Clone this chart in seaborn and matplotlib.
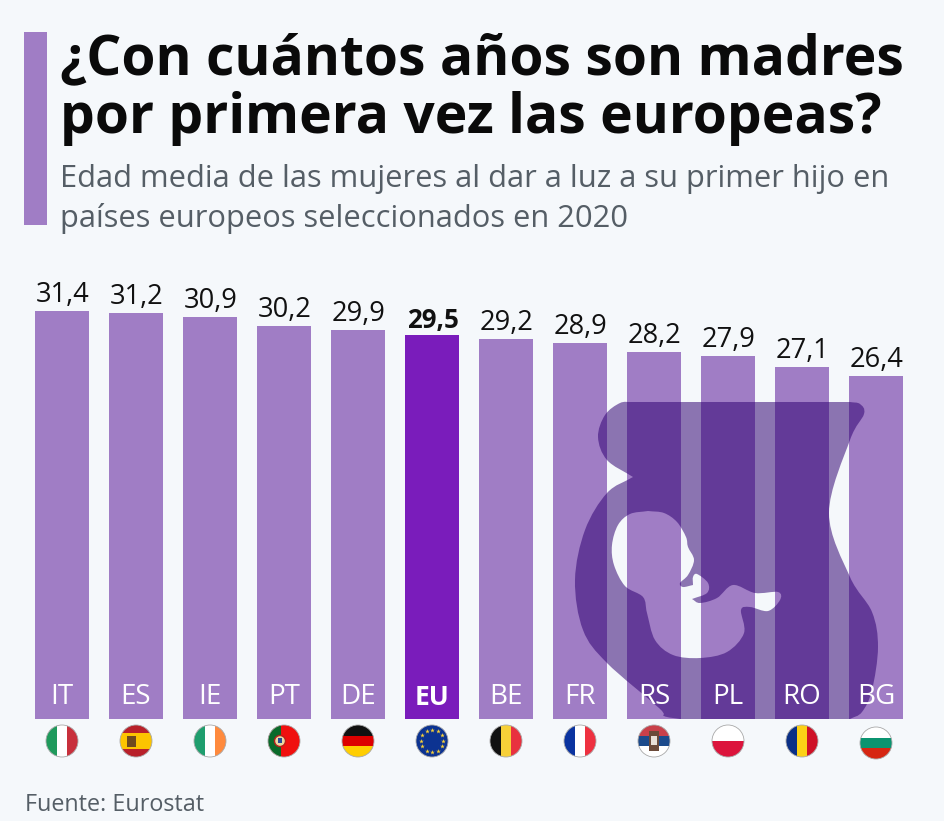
import numpy as np
import pandas as pd
import matplotlib
matplotlib.use("Agg")
import matplotlib.pyplot as plt
import seaborn as sns
from matplotlib.patches import Circle, PathPatch, Rectangle
from matplotlib.path import Path

# Data
countries = ["IT", "ES", "IE", "PT", "DE", "EU", "BE", "FR", "RS", "PL", "RO", "BG"]
ages = [31.4, 31.2, 30.9, 30.2, 29.9, 29.5, 29.2, 28.9, 28.2, 27.9, 27.1, 26.4]
highlight = "EU"

title_lines = ["¿Con cuántos años son madres", "por primera vez las europeas?"]
subtitle_lines = ["Edad media de las mujeres al dar a luz a su primer hijo en",
                  "países europeos seleccionados en 2020"]
source = "Fuente: Eurostat"

BG = "#f5f8fb"
LIGHT = "#a07dc5"
DARK = "#7a1cbb"
GREY = "#555e66"

sns.set_theme(style="white")
plt.rcParams["font.family"] = ["Open Sans", "DejaVu Sans"]

W, H = 945, 821
fig = plt.figure(figsize=(W / 100, H / 100), dpi=100, facecolor=BG)

# overlay in pixel coords for title, flags, decoration
ov = fig.add_axes([0, 0, 1, 1], zorder=0)
ov.set_xlim(0, W)
ov.set_ylim(H, 0)
ov.axis("off")

# ============================================================================
# Bars
# ============================================================================
BASE_Y = 719
PX_PER_YEAR = 13.0
ax_top = 250
ax = fig.add_axes([25 / W, (H - BASE_Y) / H, 888 / W, (BASE_Y - ax_top) / H], zorder=1)
ax.patch.set_alpha(0)

df = pd.DataFrame({"country": countries, "age": ages})
palette = {c: (DARK if c == highlight else LIGHT) for c in countries}
sns.barplot(data=df, x="country", y="age", hue="country", palette=palette,
            dodge=False, legend=False, width=0.72, saturation=1, linewidth=0, ax=ax)
ax.set_xlim(-0.5, len(countries) - 0.5)
ax.set_ylim(0, (BASE_Y - ax_top) / PX_PER_YEAR)
ax.set_xlabel("")
ax.set_ylabel("")
ax.set_xticks([])
ax.set_yticks([])
sns.despine(ax=ax, left=True, bottom=True)

# value labels + codes inside bars
for i, (c, v) in enumerate(zip(countries, ages)):
    weight = "bold" if c == highlight else "normal"
    ax.annotate(f"{v:.1f}".replace(".", ","), (i, v), xytext=(0.5, 1.4), textcoords="offset points",
                ha="center", va="bottom", fontsize=19.6 if c != highlight else 18.6, color="#111111",
                weight=weight, zorder=5)
    ax.annotate(c, (i, 0), xytext=(0, 15.5), textcoords="offset points",
                ha="center", va="center", fontsize=20 if c != highlight else 19, color="white",
                weight=weight, zorder=5)


# ============================================================================
# Silhouette
# ============================================================================
def spline(pts, first=False):
    # catmull-rom through pts as bezier pieces, ends are free
    pts = np.array(pts, dtype=float)
    ext = np.vstack([2 * pts[0] - pts[1], pts, 2 * pts[-1] - pts[-2]])
    verts, codes = [], []
    if first:
        verts.append(pts[0])
        codes.append(Path.MOVETO)
    for i in range(1, len(ext) - 2):
        p0, p1, p2, p3 = ext[i - 1], ext[i], ext[i + 1], ext[i + 2]
        verts += [p1 + (p2 - p0) / 6, p2 - (p3 - p1) / 6, p2]
        codes += [Path.CURVE4] * 3
    return verts, codes


def outline(pieces):
    verts, codes = [], []
    for j, piece in enumerate(pieces):
        v, c = spline(piece, first=(j == 0))
        verts += v
        codes += c
    verts.append(verts[0])
    codes.append(Path.CLOSEPOLY)
    return verts, codes


body = [
    [(632, 402), (850, 402)],
    [(850, 402), (860, 404), (864, 414), (850, 440), (829, 513), (850, 577), (872, 612), (878, 647),
     (872, 690), (862, 712), (850, 719)],
    [(850, 719), (680, 719)],
    [(680, 719), (664, 716), (659, 708), (607, 663), (583, 630), (575, 580), (585, 530), (607, 493), (633, 477)],
    [(633, 477), (607, 460), (598, 437), (605, 415), (620, 403), (632, 402)],
]
fetus = [
    [(648, 511), (664, 513), (677, 522), (686, 537), (688, 547), (694, 560), (688, 575), (680, 583), (683, 587),
     (693, 585)],
    [(693, 585), (693, 577), (697, 574), (708, 583), (707, 593), (692, 599)],
    [(692, 599), (700, 603), (717, 598), (733, 585), (755, 593), (778, 592), (780, 600), (768, 611), (750, 607),
     (741, 610), (744, 633), (727, 652), (700, 658), (673, 655), (655, 640), (647, 613), (643, 597), (625, 586),
     (614, 565), (612, 545), (618, 525), (630, 514), (648, 511)],
]
v1, c1 = outline(body)
# the hole has to run the other way round
v2, c2 = outline([piece[::-1] for piece in fetus[::-1]])
shape = PathPatch(Path(v1 + v2, c1 + c2), facecolor="#2e0070", alpha=0.53, lw=0,
                  transform=ov.transData, clip_on=False, zorder=3)
ax.add_patch(shape)


# ============================================================================
# Flags
# ============================================================================
def vstripes(colors):
    return [(i / len(colors), 1 / len(colors), c) for i, c in enumerate(colors)]


flag_v = {"IT": ["#1f9a5c", "#ffffff", "#c8303c"], "IE": ["#1f9e6e", "#ffffff", "#ff8a3d"],
          "BE": ["#111111", "#f7d038", "#e8313f"], "FR": ["#0a33a0", "#ffffff", "#ee3140"],
          "RO": ["#0a2f86", "#fcd116", "#ce1126"]}
flag_h = {"ES": [("#b8202a", .25), ("#fcc400", .5), ("#b8202a", .25)],
          "DE": [("#111111", 1 / 3), ("#dd0000", 1 / 3), ("#ffce00", 1 / 3)],
          "EU": [("#0c3391", 1)],
          "RS": [("#c9404a", 1 / 3), ("#1c4b8c", 1 / 3), ("#ffffff", 1 / 3)],
          "PL": [("#ffffff", .5), ("#dc143c", .5)],
          "BG": [("#ffffff", 1 / 3), ("#0b9470", 1 / 3), ("#d62612", 1 / 3)]}
R = 16
for i, c in enumerate(countries):
    cx, cy = 62 + 74 * i, 743 if c == "BG" else 741
    clip = Circle((cx, cy), R, transform=ov.transData)
    parts = []
    if c in flag_v:
        for frac, w, col in vstripes(flag_v[c]):
            parts.append(Rectangle((cx - R + 2 * R * frac, cy - R), 2 * R * w, 2 * R, fc=col, lw=0))
    elif c == "PT":
        parts.append(Rectangle((cx - R, cy - R), 2 * R, 2 * R, fc="#f0100f", lw=0))
        parts.append(Rectangle((cx - R, cy - R), 2 * R * 0.4, 2 * R, fc="#0a6a2a", lw=0))
    else:
        y0 = cy - R
        for col, h in flag_h[c]:
            parts.append(Rectangle((cx - R, y0), 2 * R, 2 * R * h, fc=col, lw=0))
            y0 += 2 * R * h
    for p in parts:
        ov.add_patch(p)
        p.set_clip_path(clip)
    ov.add_patch(Circle((cx, cy), R, fc="none", ec="#a9a9a9", lw=0.6))
    # small emblems
    if c == "ES":
        ov.add_patch(Rectangle((cx - 9, cy - 5), 9, 11, fc="#6e4a1e", lw=0))
    if c == "PT":
        ov.add_patch(Circle((cx - 4, cy), 5.5, fc="#e9d9a0", ec="#b8201c", lw=1))
        ov.add_patch(Rectangle((cx - 6, cy - 2.5), 4, 5, fc="#2a4a9a", lw=0))
    if c == "RS":
        ov.add_patch(Rectangle((cx - 5, cy - 10), 10, 20, fc="#6b4a3a", lw=0))
        ov.add_patch(Rectangle((cx - 3, cy - 5), 6, 9, fc="#e8e0d8", lw=0))
    if c == "EU":
        a = np.arange(12) * np.pi / 6
        ov.plot(cx + 11 * np.cos(a), cy + 11 * np.sin(a), ls="", marker="*", ms=3.5, color="#f7d038", mew=0)

# ============================================================================
# Texts
# ============================================================================
ov.add_patch(Rectangle((24, 32), 23, 193, fc=LIGHT, lw=0))
ov.text(60, 60, title_lines[0], fontsize=39.7, weight="bold", color="#0a0a0a", va="center", ha="left")
ov.text(60, 119, title_lines[1], fontsize=39.7, weight="bold", color="#0a0a0a", va="center", ha="left")
ov.text(60, 179, subtitle_lines[0], fontsize=22.2, color=GREY, va="center", ha="left")
ov.text(60, 218, subtitle_lines[1], fontsize=22.2, color=GREY, va="center", ha="left")
ov.text(25, 805, source, fontsize=16.8, color=GREY, va="center", ha="left")

fig.savefig("out.png", dpi=100, facecolor=BG)
